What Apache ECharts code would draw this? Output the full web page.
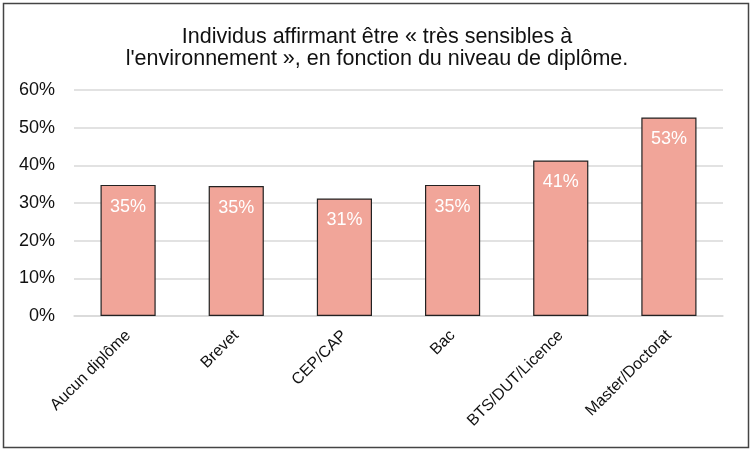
<!DOCTYPE html>
<html><head><meta charset="utf-8">
<script src="https://cdn.jsdelivr.net/npm/echarts@6/dist/echarts.min.js"></script>
<style>html,body{margin:0;padding:0;background:#fff}#c{width:754px;height:453px}</style>
</head><body><div id="c"></div>
<script>
var categories = ['Aucun diplôme','Brevet','CEP/CAP','Bac','BTS/DUT/Licence','Master/Doctorat'];
var values = [34.8, 34.5, 31.2, 34.8, 41.3, 52.7];
var yTicks = [0,10,20,30,40,50,60];
var titleText = 'Individus affirmant être « très sensibles à\nl\'environnement », en fonction du niveau de diplôme.';
var chart = echarts.init(document.getElementById('c'));
var font = 'Liberation Sans, Arial, Helvetica, sans-serif';
chart.setOption({
  animation:false,
  textStyle:{fontFamily:font},
  graphic:[{type:'rect',shape:{x:3.5,y:3.5,width:745,height:444},style:{fill:'none',stroke:'#444',lineWidth:1.5},z:-1}],
  title:{text:titleText,left:'center',top:21,textStyle:{fontFamily:font,fontSize:21.5,fontWeight:'normal',color:'#111',lineHeight:22}},
  grid:{left:74,right:31,top:90,bottom:137,containLabel:false},
  xAxis:{type:'category',data:categories,
    axisLine:{show:true,lineStyle:{color:'#d9d9d9',width:1.5}},
    axisTick:{show:false},
    axisLabel:{rotate:45,fontSize:16,color:'#111',fontFamily:font,margin:17,interval:0}},
  yAxis:{type:'value',min:0,max:60,interval:10,
    axisLabel:{formatter:'{value}%',fontSize:18,color:'#111',fontFamily:font,margin:19},
    splitLine:{lineStyle:{color:'#d9d9d9',width:1.5}},
    axisLine:{show:false},axisTick:{show:false}},
  series:[{type:'bar',data:values,barWidth:'51%',
    itemStyle:{color:'#f1a599',borderColor:'#222',borderWidth:1.2},
    label:{show:true,position:'insideTop',distance:13,color:'#fff',fontSize:18,fontFamily:font,
      formatter:function(p){return Math.round(p.value)+'%';}}}]
});
</script></body></html>
